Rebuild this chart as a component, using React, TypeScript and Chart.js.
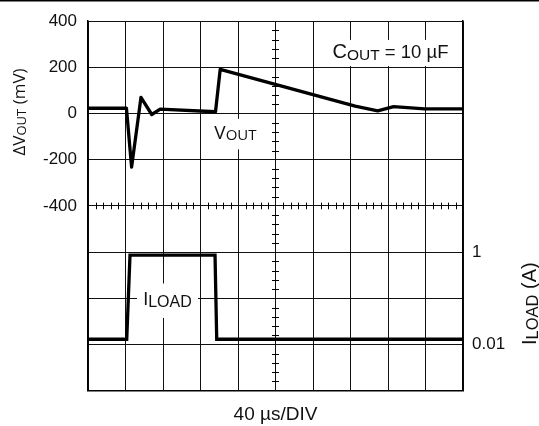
import React, { useEffect, useRef } from 'react';
import { Chart, registerables } from 'chart.js';

Chart.register(...registerables);

// ---- data (time in µs, 40 µs per division) ----
const vTimes = [0, 41, 46.5, 56.5, 68, 77, 136, 141, 285, 309, 326, 359, 400];
const vOutMv = [23, 23, -232, 70, -4, 19, 8, 191, 32, 12, 30, 20, 20];
const iTimes = [0, 41.3, 44.8, 135.5, 137.3, 400];
const iLoadA = [0.013, 0.013, 0.86, 0.86, 0.013, 0.013];
const vTickLabels = [-400, -200, 0, 200, 400];
const iTickValues = [0.01, 1];
const iTickLabels = ['0.01', '1'];

const SANS = '"Liberation Sans", Arial, sans-serif';
const ALT = '"Open Sans", "Liberation Sans", sans-serif';

type Part = { text: string; size: number; dy?: number; family?: string };

function drawRich(ctx: CanvasRenderingContext2D, parts: Part[], x: number, y: number) {
  let total = 0;
  const widths: number[] = [];
  for (const p of parts) {
    ctx.font = `${p.size}px ${p.family || SANS}`;
    const w = ctx.measureText(p.text).width;
    widths.push(w);
    total += w;
  }
  let cx = x - total / 2;
  parts.forEach((p, i) => {
    ctx.font = `${p.size}px ${p.family || SANS}`;
    ctx.fillText(p.text, cx, y + (p.dy || 0));
    cx += widths[i];
  });
}

const overlayPlugin = {
  id: 'overlay',
  beforeDraw(chart: any) {
    const { ctx, width } = chart;
    ctx.save();
    ctx.fillStyle = '#000';
    ctx.fillRect(0, 0, width, 1.5);
    ctx.restore();
  },
  beforeDatasetsDraw(chart: any) {
    const { ctx } = chart;
    const x = chart.scales.x;
    const y = chart.scales.y;
    ctx.save();
    ctx.strokeStyle = '#000';
    ctx.lineWidth = 1;
    ctx.beginPath();
    const yc = y.getPixelForValue(-400);
    for (let t = 0; t <= 400; t += 8) {
      if (t % 40 === 0) continue;
      const px = Math.round(x.getPixelForValue(t)) + 0.5;
      ctx.moveTo(px, yc - 3.3);
      ctx.lineTo(px, yc + 3.3);
    }
    const xc = x.getPixelForValue(200);
    for (let v = -1200; v <= 400; v += 40) {
      if (v % 200 === 0) continue;
      const py = Math.round(y.getPixelForValue(v)) + 0.5;
      ctx.moveTo(xc - 3.5, py);
      ctx.lineTo(xc + 3.5, py);
    }
    ctx.stroke();
    // white label backgrounds
    ctx.fillStyle = '#fff';
    const boxes = [
      [128, 185.6, -22.7, -155],
      [52.3, 117.3, -735.8, -885],
      [253.9, 398.4, 319, 205.7],
    ];
    for (const [x0, x1, y0, y1] of boxes) {
      const px0 = x.getPixelForValue(x0);
      const px1 = x.getPixelForValue(x1);
      const py0 = y.getPixelForValue(y0);
      const py1 = y.getPixelForValue(y1);
      ctx.fillRect(px0, py0, px1 - px0, py1 - py0);
    }
    ctx.restore();
  },
  afterDatasetsDraw(chart: any) {
    const { ctx, chartArea } = chart;
    const x = chart.scales.x;
    const y = chart.scales.y;
    ctx.save();
    ctx.fillStyle = '#111';
    ctx.textBaseline = 'alphabetic';
    // VOUT label
    drawRich(
      ctx,
      [
        { text: 'V', size: 19, family: ALT },
        { text: 'OUT', size: 15, dy: 1, family: ALT },
      ],
      x.getPixelForValue(157.3),
      y.getPixelForValue(-108)
    );
    // ILOAD label
    drawRich(
      ctx,
      [
        { text: 'I', size: 18 },
        { text: 'LOAD', size: 16, dy: 2.4 },
      ],
      x.getPixelForValue(84.8),
      y.getPixelForValue(-827.6)
    );
    // COUT label
    drawRich(
      ctx,
      [
        { text: 'C', size: 20 },
        { text: 'OUT', size: 15.5, dy: 1.7 },
        { text: ' = 10 \u00b5F', size: 18.5 },
      ],
      x.getPixelForValue(322.7),
      y.getPixelForValue(240.7)
    );
    // x title
    drawRich(ctx, [{ text: '40 \u00b5s/DIV', size: 19 }], x.getPixelForValue(200), chartArea.bottom + 29);
    // left title (rotated)
    ctx.save();
    ctx.translate(chartArea.left - 63.5, y.getPixelForValue(7));
    ctx.rotate(-Math.PI / 2);
    drawRich(
      ctx,
      [
        { text: '\u0394V', size: 17, family: ALT },
        { text: 'OUT', size: 13, dy: 1, family: ALT },
        { text: ' (mV)', size: 17, family: ALT },
      ],
      0,
      0
    );
    ctx.restore();
    // right title (rotated)
    ctx.save();
    ctx.translate(chartArea.right + 73, y.getPixelForValue(-823));
    ctx.rotate(-Math.PI / 2);
    drawRich(
      ctx,
      [
        { text: 'I', size: 20 },
        { text: 'LOAD', size: 16.5, dy: 2 },
        { text: ' (A)', size: 20 },
      ],
      0,
      0
    );
    ctx.restore();
    ctx.restore();
  },
};

export default function App() {
  const ref = useRef<HTMLCanvasElement | null>(null);
  useEffect(() => {
    if (!ref.current) return;
    const chart = new Chart(ref.current, {
      type: 'line',
      data: {
        datasets: [
          {
            label: 'VOUT',
            data: vTimes.map((t, i) => ({ x: t, y: vOutMv[i] })),
            yAxisID: 'y',
            borderColor: '#000',
            borderWidth: 3.3,
            pointRadius: 0,
            tension: 0,
            fill: false,
            borderJoinStyle: 'round',
          },
          {
            label: 'ILOAD',
            data: iTimes.map((t, i) => ({ x: t, y: iLoadA[i] })),
            yAxisID: 'y2',
            borderColor: '#000',
            borderWidth: 3.3,
            pointRadius: 0,
            tension: 0,
            fill: false,
            borderJoinStyle: 'miter',
          },
        ],
      },
      options: {
        responsive: false,
        animation: false,
        layout: { padding: { top: 16, left: 0, right: 0, bottom: 0 } },
        plugins: { legend: { display: false }, tooltip: { enabled: false } },
        scales: {
          x: {
            type: 'linear',
            min: 0,
            max: 400,
            ticks: { stepSize: 40, display: false },
            grid: { color: '#111', lineWidth: 1, drawTicks: false },
            border: { display: true, color: '#000', width: 1.5 },
            afterFit: (s: any) => {
              s.height = 35.3;
            },
          },
          y: {
            type: 'linear',
            min: -1200,
            max: 400,
            ticks: {
              stepSize: 200,
              padding: 11,
              color: '#111',
              font: { size: 17, family: SANS },
              callback: (v: any) => (vTickLabels.includes(Number(v)) ? String(v) : ''),
            },
            grid: { color: '#111', lineWidth: 1, drawTicks: false },
            border: { display: true, color: '#000', width: 1.5 },
            afterFit: (s: any) => {
              s.width = 88;
            },
          },
          y2: {
            type: 'logarithmic',
            position: 'right',
            min: 0.001,
            max: 100000,
            afterBuildTicks: (s: any) => {
              s.ticks = iTickValues.map((v) => ({ value: v }));
            },
            ticks: {
              padding: 9,
              color: '#111',
              font: { size: 17, family: SANS },
              callback: (v: any) => {
                const i = iTickValues.findIndex((t) => Math.abs(t - Number(v)) < 1e-9);
                return i >= 0 ? iTickLabels[i] : '';
              },
            },
            grid: { display: false, drawTicks: false },
            border: { display: true, color: '#000', width: 1.5 },
            afterFit: (s: any) => {
              s.width = 76;
            },
          },
        },
      },
      plugins: [overlayPlugin],
    } as any);
    return () => chart.destroy();
  }, []);
  return (
    <div style={{ position: 'absolute', left: 0, top: 0, width: 539, height: 426, background: '#fff' }}>
      <canvas ref={ref} width={539} height={426} style={{ display: 'block', width: 539, height: 426 }} />
    </div>
  );
}
